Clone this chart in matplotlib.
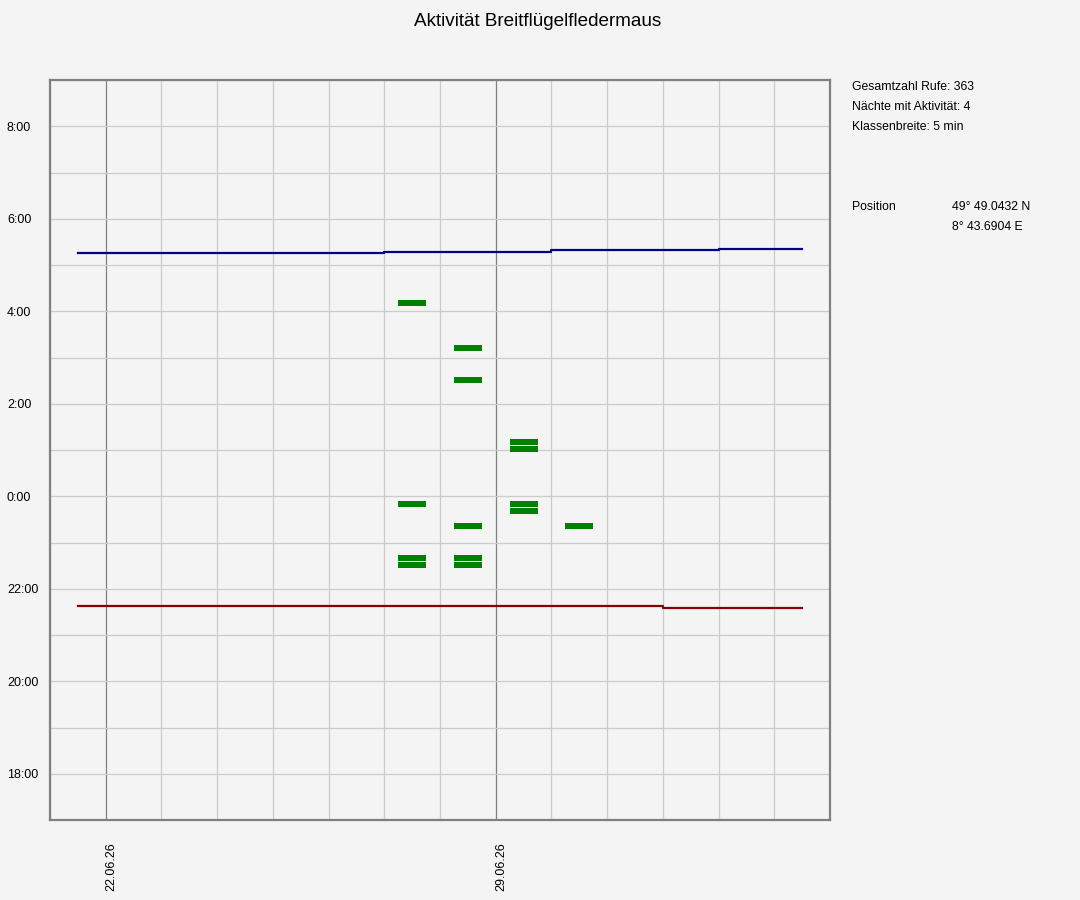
import datetime as dt
import matplotlib
matplotlib.use("Agg")
import matplotlib.pyplot as plt
import matplotlib.dates as mdates
import matplotlib.transforms as mtransforms
from matplotlib.ticker import FixedLocator, FuncFormatter

# nights shown on the x axis (one value per day, 21.06. - 04.07.)
first_day = dt.date(2026, 6, 21)
n_days = 14

# sunrise / sunset per day (local time)
sunrise = ["05:16", "05:16", "05:16", "05:16", "05:16", "05:16", "05:17",
           "05:17", "05:17", "05:19", "05:20", "05:20", "05:21", "05:21"]
sunset = ["21:37", "21:37", "21:37", "21:37", "21:37", "21:37", "21:37",
          "21:37", "21:37", "21:37", "21:37", "21:35", "21:35", "21:35"]

# activity classes (night start date, centre time of class)
act_nights = ["27.06", "27.06", "27.06", "27.06",
              "28.06", "28.06", "28.06", "28.06", "28.06",
              "29.06", "29.06", "29.06", "29.06",
              "30.06"]
act_times = ["04:11", "23:50", "22:40", "22:31",
             "03:12", "02:31", "23:21", "22:40", "22:31",
             "01:11", "01:01", "23:50", "23:41",
             "23:21"]

info_lines = ["Gesamtzahl Rufe: 363", "Nächte mit Aktivität: 4", "Klassenbreite: 5 min"]
pos_lat = "49° 49.0432 N"
pos_lon = "8° 43.6904 E"


def hours_after_noon(s):
    h, m = s.split(":")
    v = int(h) + int(m) / 60.0 - 12
    if v < 0:
        v += 24
    return v


def night_num(s):
    d, m = s.split(".")
    return mdates.date2num(dt.datetime(2026, int(m), int(d)))


plt.rcParams['font.family'] = ['Liberation Sans', 'DejaVu Sans']
bg = "#f4f4f4"

fig = plt.figure(figsize=(10.8, 9), dpi=100, facecolor=bg)
ax = fig.add_axes([50 / 1080, 1 - 820 / 900, 780 / 1080, 740 / 900], facecolor=bg)

days = [mdates.date2num(dt.datetime.combine(first_day, dt.time(12))) + i for i in range(n_days)]
ax.plot(days, [hours_after_noon(t) for t in sunrise], color="#00008b", lw=1.6,
        drawstyle="steps-mid", zorder=3)
ax.plot(days, [hours_after_noon(t) for t in sunset], color="#8b0000", lw=1.6,
        drawstyle="steps-mid", zorder=3)

bar_h = 7.8 / 60
xs = [night_num(n) + 0.5 for n in act_nights]
ys = [hours_after_noon(t) - bar_h / 2 for t in act_times]
ax.bar(xs, [bar_h] * len(xs), width=0.5, bottom=ys, color="#008000", zorder=4)

x0 = mdates.date2num(dt.datetime.combine(first_day, dt.time(0)))
ax.set_xlim(x0, x0 + 14)
ax.set_ylim(5, 21)

ax.xaxis.set_major_locator(mdates.WeekdayLocator(byweekday=mdates.MO))
ax.xaxis.set_major_formatter(mdates.DateFormatter("%d.%m.%y"))
ax.xaxis.set_minor_locator(mdates.DayLocator())
ax.yaxis.set_major_locator(FixedLocator(range(6, 21, 2)))
ax.yaxis.set_minor_locator(FixedLocator(range(5, 22)))
ax.yaxis.set_major_formatter(FuncFormatter(lambda v, p: "%d:00" % ((int(v) + 12) % 24)))

ax.grid(which="minor", color="#cccccc", lw=0.9)
ax.grid(which="major", axis="y", color="#cccccc", lw=0.9)
ax.grid(which="major", axis="x", color="#808080", lw=0.9)
ax.set_axisbelow(True)

ax.tick_params(which="both", length=0)
ax.tick_params(axis="y", labelsize=9, pad=31)
ax.tick_params(axis="x", labelsize=9, pad=16, labelrotation=90)
for lbl in ax.get_yticklabels():
    lbl.set_ha("left")
shift = mtransforms.ScaledTranslation(6 / 100, 0, fig.dpi_scale_trans)
for lbl in ax.get_xticklabels():
    lbl.set_va("top")
    lbl.set_transform(lbl.get_transform() + shift)
for sp in ax.spines.values():
    sp.set_color("#808080")
    sp.set_linewidth(1.6)

fig.text(538 / 1080, 1 - 22 / 900, "Aktivität Breitflügelfledermaus", ha="center", va="center",
         fontsize=13.6)
for i, line in enumerate(info_lines):
    fig.text(852 / 1080, 1 - (87 + 20 * i) / 900, line, fontsize=8.8, va="center")
fig.text(852 / 1080, 1 - 207 / 900, "Position", fontsize=8.8, va="center")
fig.text(952 / 1080, 1 - 207 / 900, pos_lat, fontsize=8.8, va="center")
fig.text(952 / 1080, 1 - 227 / 900, pos_lon, fontsize=8.8, va="center")

fig.savefig("out.png", dpi=100, facecolor=bg)
